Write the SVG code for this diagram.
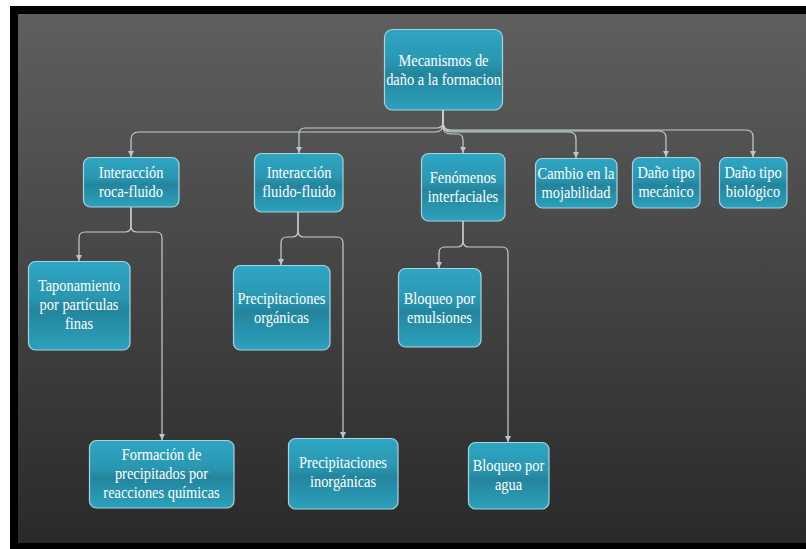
<svg xmlns="http://www.w3.org/2000/svg" width="806" height="549" viewBox="0 0 806 549">
<defs>
<linearGradient id="bg" x1="0" y1="0" x2="0" y2="1">
<stop offset="0" stop-color="#5f5f5f"/>
<stop offset="1" stop-color="#2a2a2a"/>
</linearGradient>
<linearGradient id="nodeFill" x1="0" y1="0" x2="0" y2="1">
<stop offset="0" stop-color="#2ea6c3"/>
<stop offset="0.4" stop-color="#2a97b2"/>
<stop offset="0.55" stop-color="#23859d"/>
<stop offset="1" stop-color="#2ca1bd"/>
</linearGradient>
<marker id="arr" viewBox="0 0 8 8" refX="8" refY="4" markerWidth="6" markerHeight="6" markerUnits="userSpaceOnUse" orient="auto">
<path d="M0,0 L8,4 L0,8 Z" fill="#b9c6ca"/>
</marker>
<style>
.node rect{fill:url(#nodeFill);stroke:#a6d4df;stroke-width:1.2}
.node text{font-family:"Liberation Serif",serif;font-size:16px;fill:#ffffff;text-anchor:middle}
.conn path{fill:none;stroke:#c3cfd3;stroke-width:1.2;marker-end:url(#arr)}
</style>
</defs>
<rect x="0" y="0" width="806" height="549" fill="#ffffff"/>
<rect x="10" y="6" width="796" height="543" fill="#000000"/>
<rect x="18" y="14" width="788" height="529" fill="url(#bg)"/>

<g id="connectors" class="conn">
<path d="M443,110 V124 Q443,132 435,132 H139 Q131,132 131,140 V157"/>
<path d="M443,110 V122 Q443,128 437,128 H305 Q299,128 299,134 V153"/>
<path d="M443,110 V126 Q443,134 451,134 H457 Q463,134 463,140 V153"/>
<path d="M443,110 V124 Q443,132 451,132 H569 Q576,132 576,139 V158"/>
<path d="M443,110 V123 Q443,131 451,131 H659 Q666,131 666,138 V157"/>
<path d="M443,110 V122 Q443,130 451,130 H746 Q753,130 753,137 V157"/>
<path d="M131,207 V226 Q131,232 125,232 H85 Q79,232 79,238 V261"/>
<path d="M131,207 V226 Q131,232 137,232 H156 Q162,232 162,238 V440"/>
<path d="M298,212 V231 Q298,237 292,237 H287 Q281,237 281,243 V265"/>
<path d="M298,212 V231 Q298,237 304,237 H337 Q343,237 343,243 V438"/>
<path d="M463,221 V241 Q463,247 457,247 H445 Q439,247 439,253 V268"/>
<path d="M463,221 V241 Q463,247 469,247 H502 Q508,247 508,253 V442"/>
</g>

<g id="n_root" class="node">
<rect x="384.5" y="29.5" width="118" height="80.5" rx="8"/>
<text transform="translate(443.5 0) scale(0.9 1)"><tspan x="0" y="66.5">Mecanismos de</tspan><tspan x="0" y="85.5">daño a la formacion</tspan></text>
</g>
<g id="n_roca" class="node">
<rect x="83.5" y="157.5" width="95.5" height="49.5" rx="7"/>
<text transform="translate(131 0) scale(0.9 1)"><tspan x="0" y="178">Interacción</tspan><tspan x="0" y="197">roca-fluido</tspan></text>
</g>
<g id="n_fluido" class="node">
<rect x="254.5" y="153.5" width="88.5" height="58.5" rx="7"/>
<text transform="translate(299 0) scale(0.9 1)"><tspan x="0" y="178.5">Interacción</tspan><tspan x="0" y="197.5">fluido-fluido</tspan></text>
</g>
<g id="n_fenomenos" class="node">
<rect x="421.5" y="153.5" width="83.5" height="67.5" rx="7"/>
<text transform="translate(463 0) scale(0.9 1)"><tspan x="0" y="183">Fenómenos</tspan><tspan x="0" y="202">interfaciales</tspan></text>
</g>
<g id="n_mojabilidad" class="node">
<rect x="535.5" y="158.5" width="81.5" height="49.5" rx="7"/>
<text transform="translate(576 0) scale(0.9 1)"><tspan x="0" y="179">Cambio en la</tspan><tspan x="0" y="198">mojabilidad</tspan></text>
</g>
<g id="n_mecanico" class="node">
<rect x="632.5" y="157.5" width="67.5" height="50.5" rx="7"/>
<text transform="translate(666 0) scale(0.9 1)"><tspan x="0" y="178.5">Daño tipo</tspan><tspan x="0" y="197.5">mecánico</tspan></text>
</g>
<g id="n_biologico" class="node">
<rect x="719.5" y="157.5" width="67.5" height="50.5" rx="7"/>
<text transform="translate(753 0) scale(0.9 1)"><tspan x="0" y="178.5">Daño tipo</tspan><tspan x="0" y="197.5">biológico</tspan></text>
</g>
<g id="n_taponamiento" class="node">
<rect x="28.5" y="261.5" width="101.5" height="88.5" rx="7"/>
<text transform="translate(79 0) scale(0.9 1)"><tspan x="0" y="291">Taponamiento</tspan><tspan x="0" y="310">por partículas</tspan><tspan x="0" y="329">finas</tspan></text>
</g>
<g id="n_organicas" class="node">
<rect x="233.5" y="265.5" width="96.5" height="84.5" rx="7"/>
<text transform="translate(281.5 0) scale(0.9 1)"><tspan x="0" y="304">Precipitaciones</tspan><tspan x="0" y="323">orgánicas</tspan></text>
</g>
<g id="n_emulsiones" class="node">
<rect x="398.5" y="268.5" width="82.5" height="78.5" rx="7"/>
<text transform="translate(439.5 0) scale(0.9 1)"><tspan x="0" y="304">Bloqueo por</tspan><tspan x="0" y="323">emulsiones</tspan></text>
</g>
<g id="n_formacion" class="node">
<rect x="89.5" y="440.5" width="144.5" height="67.5" rx="7"/>
<text transform="translate(161.5 0) scale(0.9 1)"><tspan x="0" y="460.5">Formación de</tspan><tspan x="0" y="479.5">precipitados por</tspan><tspan x="0" y="498.5">reacciones químicas</tspan></text>
</g>
<g id="n_inorganicas" class="node">
<rect x="288.5" y="438.5" width="109.5" height="70.5" rx="7"/>
<text transform="translate(343 0) scale(0.9 1)"><tspan x="0" y="468.5">Precipitaciones</tspan><tspan x="0" y="487.5">inorgánicas</tspan></text>
</g>
<g id="n_agua" class="node">
<rect x="468.5" y="442.5" width="80.5" height="66.5" rx="7"/>
<text transform="translate(508.5 0) scale(0.9 1)"><tspan x="0" y="471">Bloqueo por</tspan><tspan x="0" y="490">agua</tspan></text>
</g>
</svg>
